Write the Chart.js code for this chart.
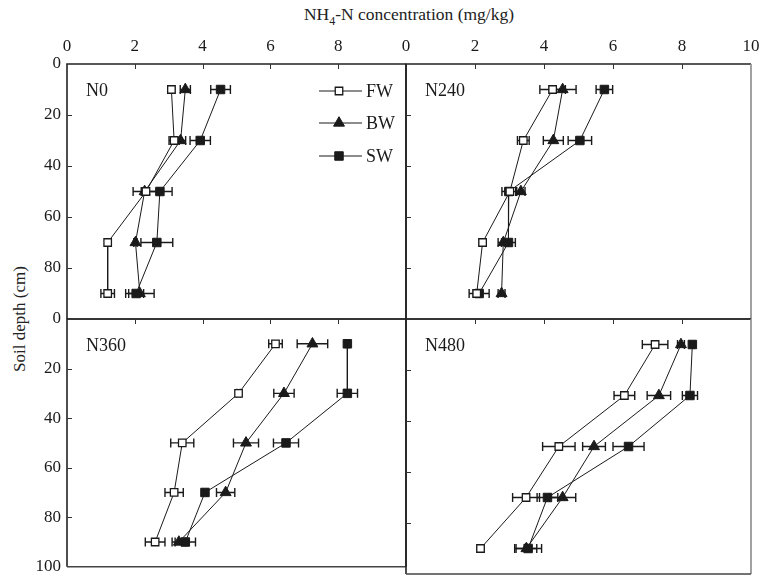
<!DOCTYPE html>
<html>
<head>
<meta charset="utf-8">
<script src="https://cdn.jsdelivr.net/npm/chart.js@4.4.1/dist/chart.umd.min.js"></script>
<style>
  body { margin: 0; background: #fff; }
  #wrap { position: relative; width: 770px; height: 583px; font-family: "Liberation Serif", serif; color: #222; }
  #wrap canvas { position: absolute; left: 0; top: 0; }
  #xtitle { position: absolute; left: 0; width: 818px; top: 4px; text-align: center; font-size: 17.5px; }
  #xtitle sub { font-size: 12px; }
  #ytitle { position: absolute; left: 20px; top: 319px; font-size: 17px; white-space: nowrap; transform: translate(-50%, -50%) rotate(-90deg); }
</style>
</head>
<body>
<div id="wrap">
  <div id="xtitle">NH<sub>4</sub>-N concentration (mg/kg)</div>
  <div id="ytitle">Soil depth (cm)</div>
  <canvas id="p0" width="770" height="583"></canvas>
  <canvas id="p1" width="770" height="583"></canvas>
  <canvas id="p2" width="770" height="583"></canvas>
  <canvas id="p3" width="770" height="583"></canvas>
</div>
<script>
// soil depths (cm) for each sampling layer
const depths = [10, 30, 50, 70, 90];
const seriesNames = ['FW', 'BW', 'SW'];
const panelNames = ['N0', 'N240', 'N360', 'N480'];

// N0
const n0FW = [3.08, 3.16, 2.33, 1.20, 1.20];
const n0FWerr = [0.10, 0.15, 0.38, 0.05, 0.20];
const n0BW = [3.49, 3.35, 2.29, 2.02, 2.15];
const n0BWerr = [0.15, 0.15, 0.10, 0.05, 0.42];
const n0SW = [4.53, 3.93, 2.74, 2.65, 2.04];
const n0SWerr = [0.29, 0.30, 0.36, 0.47, 0.22];

// N240
const n240FW = [4.25, 3.40, 3.01, 2.22, 2.05];
const n240FWerr = [0.37, 0.17, 0.10, 0.10, 0.10];
const n240BW = [4.54, 4.27, 3.33, 2.82, 2.77];
const n240BWerr = [0.39, 0.29, 0.12, 0.15, 0.10];
const n240SW = [5.75, 5.04, 2.98, 2.97, 2.12];
const n240SWerr = [0.24, 0.34, 0.20, 0.20, 0.29];

// N360
const n360FW = [6.15, 5.06, 3.40, 3.16, 2.60];
const n360FWerr = [0.20, 0.05, 0.34, 0.27, 0.29];
const n360BW = [7.24, 6.40, 5.28, 4.68, 3.30];
const n360BWerr = [0.45, 0.30, 0.37, 0.27, 0.20];
const n360SW = [8.27, 8.27, 6.46, 4.07, 3.49];
const n360SWerr = [0.05, 0.30, 0.37, 0.05, 0.30];

// N480
const n480FW = [7.22, 6.33, 4.43, 3.48, 2.16];
const n480FWerr = [0.37, 0.30, 0.47, 0.39, 0.10];
const n480BW = [7.97, 7.33, 5.45, 4.54, 3.49];
const n480BWerr = [0.10, 0.34, 0.33, 0.38, 0.30];
const n480SW = [8.30, 8.23, 6.45, 4.10, 3.54];
const n480SWerr = [0.05, 0.22, 0.45, 0.30, 0.39];

const panelData = [
  [[n0FW, n0FWerr], [n0BW, n0BWerr], [n0SW, n0SWerr]],
  [[n240FW, n240FWerr], [n240BW, n240BWerr], [n240SW, n240SWerr]],
  [[n360FW, n360FWerr], [n360BW, n360BWerr], [n360SW, n360SWerr]],
  [[n480FW, n480FWerr], [n480BW, n480BWerr], [n480SW, n480SWerr]]
];

// panel boxes in page pixels
const boxes = [
  { l: 67, t: 64, r: 406, b: 319 },
  { l: 406, t: 64, r: 751, b: 319 },
  { l: 67, t: 319, r: 406, b: 574 },
  { l: 406, t: 319, r: 751, b: 574 }
];

const INK = '#1a1a1a';
const pointStyles = [
  { pointStyle: 'rect', pointBackgroundColor: '#fff', pointRadius: 5.3, pointBorderWidth: 1.3 },
  { pointStyle: 'triangle', pointBackgroundColor: INK, pointRadius: 6.3, pointBorderWidth: 1 },
  { pointStyle: 'rect', pointBackgroundColor: INK, pointRadius: 6, pointBorderWidth: 1 }
];

const errorBars = {
  id: 'errorBars',
  beforeDatasetsDraw(chart) {
    const { ctx, scales: { x, y } } = chart;
    ctx.save();
    ctx.strokeStyle = INK;
    ctx.lineWidth = 1.4;
    chart.data.datasets.forEach(ds => {
      ds.errs.forEach((e, i) => {
        const py = y.getPixelForValue(depths[i]);
        const x1 = x.getPixelForValue(ds.data[i].x - e);
        const x2 = x.getPixelForValue(ds.data[i].x + e);
        ctx.beginPath();
        ctx.moveTo(x1, py); ctx.lineTo(x2, py);
        ctx.moveTo(x1, py - 4.5); ctx.lineTo(x1, py + 4.5);
        ctx.moveTo(x2, py - 4.5); ctx.lineTo(x2, py + 4.5);
        ctx.stroke();
      });
    });
    ctx.restore();
  }
};

const frame = {
  id: 'frame',
  afterDraw(chart, args, opts) {
    const { ctx, chartArea: a, scales: { x, y } } = chart;
    ctx.save();
    ctx.lineWidth = 1.6;
    ctx.strokeStyle = '#222';
    ctx.beginPath();
    ctx.moveTo(a.left, a.bottom); ctx.lineTo(a.left, a.top); ctx.lineTo(a.right, a.top);
    ctx.stroke();
    ctx.strokeStyle = opts.farRight ? '#8a8a8a' : '#222';
    ctx.beginPath();
    ctx.moveTo(a.right, a.top); ctx.lineTo(a.right, a.bottom);
    ctx.stroke();
    ctx.strokeStyle = '#444';
    ctx.beginPath();
    ctx.moveTo(a.left, a.bottom); ctx.lineTo(a.right, a.bottom);
    ctx.stroke();
    // inward tick marks
    ctx.lineWidth = 1;
    ctx.strokeStyle = '#333';
    ctx.beginPath();
    [2, 4, 6, 8].forEach(v => {
      const px = Math.round(x.getPixelForValue(v)) + 0.5;
      ctx.moveTo(px, a.top); ctx.lineTo(px, a.top + 5);
    });
    [20, 40, 60, 80].forEach(v => {
      const py = Math.round(y.getPixelForValue(v)) + 0.5;
      ctx.moveTo(a.left, py); ctx.lineTo(a.left + 5, py);
    });
    ctx.stroke();
    // panel label
    ctx.fillStyle = INK;
    ctx.font = '18px "Liberation Serif", serif';
    ctx.textBaseline = 'middle';
    ctx.fillText(opts.label, a.left + 19, a.top + 27);
    ctx.restore();
  }
};

const legendBox = {
  id: 'legendBox',
  afterDraw(chart, args, opts) {
    if (!opts.show) return;
    const { ctx } = chart;
    const rows = [91, 123, 156];
    ctx.save();
    chart.data.datasets.forEach((ds, i) => {
      const yy = rows[i];
      ctx.strokeStyle = INK;
      ctx.lineWidth = 1;
      ctx.beginPath();
      ctx.moveTo(319, yy); ctx.lineTo(362, yy);
      ctx.stroke();
      ctx.fillStyle = ds.pointBackgroundColor;
      ctx.lineWidth = ds.pointBorderWidth;
      Chart.helpers.drawPoint(ctx, { pointStyle: ds.pointStyle, radius: ds.pointRadius, borderWidth: ds.pointBorderWidth, rotation: 0 }, 339, yy);
      ctx.fillStyle = INK;
      ctx.font = '18px "Liberation Serif", serif';
      ctx.textBaseline = 'middle';
      ctx.fillText(ds.label, 366, yy + 1);
    });
    ctx.restore();
  }
};

panelData.forEach((series, p) => {
  const box = boxes[p];
  const isTop = p < 2;
  const isLeft = p % 2 === 0;
  new Chart(document.getElementById('p' + p), {
    type: 'scatter',
    data: {
      datasets: series.map(([vals, errs], s) => Object.assign({
        label: seriesNames[s],
        data: vals.map((v, i) => ({ x: v, y: depths[i] })),
        errs: errs,
        showLine: true,
        borderColor: INK,
        borderWidth: 1,
        pointBorderColor: INK
      }, pointStyles[s]))
    },
    options: {
      responsive: false,
      animation: false,
      devicePixelRatio: 1,
      layout: { padding: { left: box.l - 50, top: box.t - 30, right: 770 - box.r, bottom: 583 - box.b } },
      scales: {
        x: {
          type: 'linear', position: 'top', min: 0, max: 10,
          grid: { display: false, drawTicks: false },
          border: { display: false },
          afterFit: s => { s.height = 30; },
          ticks: {
            display: isTop, stepSize: 2, padding: 7, color: INK,
            font: { family: '"Liberation Serif", serif', size: 17 },
            callback: v => (isLeft && v === 10) ? '' : v
          }
        },
        y: {
          type: 'linear', position: 'left', min: 0, max: 100, reverse: true,
          grid: { display: false, drawTicks: false },
          border: { display: false },
          afterFit: s => { s.width = 50; },
          ticks: {
            display: isLeft, stepSize: 20, padding: 6, color: INK,
            font: { family: '"Liberation Serif", serif', size: 17 },
            callback: v => (isTop && v === 100) ? '' : v
          }
        }
      },
      plugins: {
        legend: { display: false },
        tooltip: { enabled: false },
        frame: { label: panelNames[p], farRight: !isLeft },
        legendBox: { show: p === 0 }
      }
    },
    plugins: [errorBars, frame, legendBox]
  });
});
</script>
</body>
</html>
